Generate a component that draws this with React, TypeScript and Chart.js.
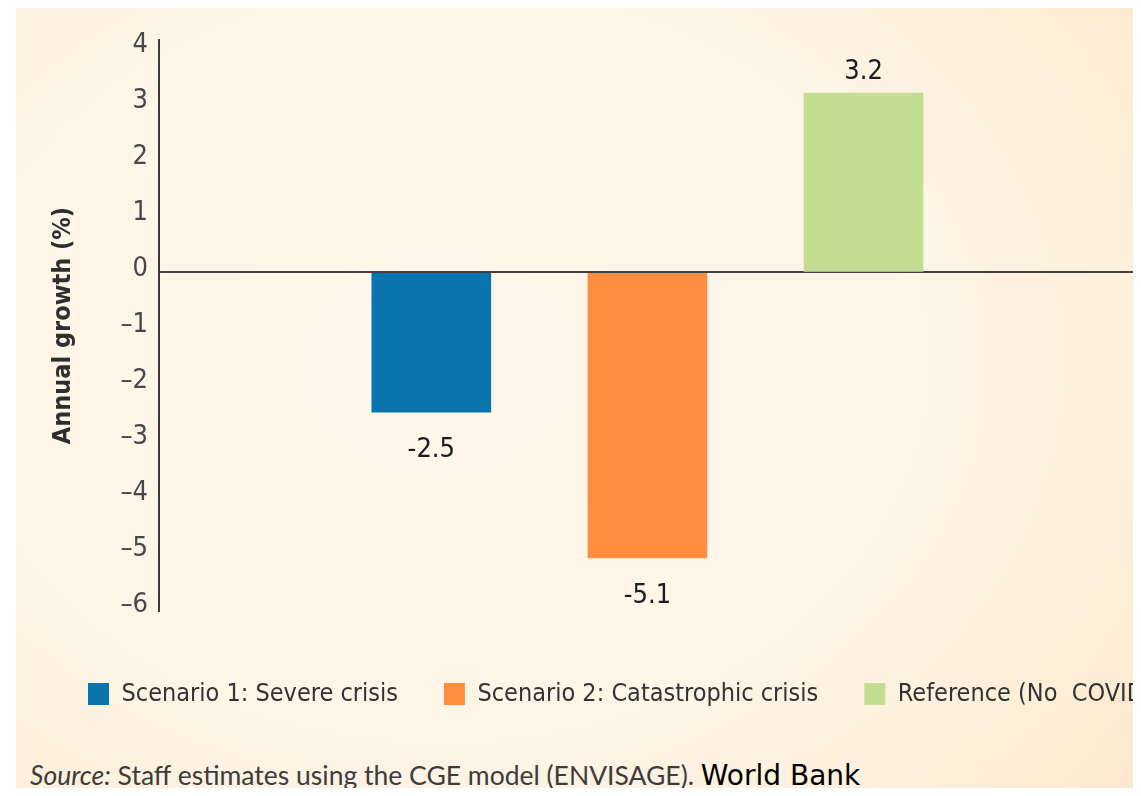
import React, { useEffect, useRef } from 'react';
import { Chart, registerables } from 'chart.js';

Chart.register(...registerables);

// ---- data ----
const categories = ['Scenario 1: Severe crisis', 'Scenario 2: Catastrophic crisis', 'Reference (No  COVID)'];
const values = [-2.5, -5.1, 3.2];
const valueLabels = ['-2.5', '-5.1', '3.2'];
const colors = ['#0A74AD', '#FF8E40', '#C3DD92'];
const yAxisTitle = 'Annual growth (%)';
const yMin = -6;
const yMax = 4;
const yStep = 1;

const COND = '"DejaVu Sans Condensed", "DejaVu Sans", sans-serif';

const valueLabelPlugin = {
  id: 'valueLabels',
  afterDatasetsDraw(chart: any) {
    const ctx = chart.ctx;
    ctx.save();
    ctx.font = `normal 27px ${COND}`;
    ctx.fillStyle = '#1b1b1b';
    ctx.textAlign = 'center';
    ctx.textBaseline = 'alphabetic';
    chart.data.datasets.forEach((ds: any, i: number) => {
      const meta = chart.getDatasetMeta(i);
      meta.data.forEach((el: any) => {
        const v = values[i];
        const { x, y } = el.getProps(['x', 'y'], true);
        if (v < 0) ctx.fillText(valueLabels[i], x, y + 45);
        else ctx.fillText(valueLabels[i], x, y - 14);
      });
    });
    ctx.restore();
  },
};

export default function App() {
  const ref = useRef<HTMLCanvasElement | null>(null);

  useEffect(() => {
    document.documentElement.style.overflow = 'hidden';
    document.body.style.overflow = 'hidden';
    if (!ref.current) return;
    const chart = new Chart(ref.current, {
      type: 'bar',
      data: {
        datasets: categories.map((c, i) => ({
          label: c,
          data: [{ x: i + 1, y: values[i] }],
          backgroundColor: colors[i],
          borderWidth: 0,
          barThickness: 119,
          grouped: false,
        })),
      },
      options: {
        animation: false,
        responsive: false,
        devicePixelRatio: 1,
        layout: { padding: { left: 26, top: 32, right: 0, bottom: 11.5 } },
        plugins: {
          tooltip: { enabled: false },
          legend: {
            position: 'bottom',
            align: 'start',
            labels: {
              boxWidth: 21,
              boxHeight: 22,
              padding: 46,
              color: '#333333',
              font: { family: COND, size: 25 },
            },
          },
        },
        scales: {
          x: {
            type: 'linear',
            min: -0.26,
            max: 4.27,
            offset: false,
            display: true,
            ticks: { display: false },
            grid: { display: false },
            border: { display: false },
            afterFit: (s: any) => { s.height = 24.5; },
          },
          y: {
            type: 'linear',
            min: yMin - 0.05,
            max: yMax + 0.15,
            z: 1,
            ticks: {
              stepSize: yStep,
              includeBounds: false,
              padding: 11,
              labelOffset: -3,
              color: '#474747',
              font: { family: COND, size: 27 },
              callback: (v: any) => (v < 0 ? '\u2013' + Math.abs(v) : String(v)),
            },
            grid: {
              drawTicks: false,
              lineWidth: 2,
              color: (c: any) => (c.tick && c.tick.value === 0 ? '#404040' : 'rgba(0,0,0,0)'),
            },
            border: { display: true, color: '#3a3a3a', width: 2 },
            title: {
              display: true,
              text: yAxisTitle,
              color: '#2e2e2e',
              font: { family: COND, size: 25, weight: 'bold' },
              padding: { top: 6, bottom: 0 },
            },
            afterFit: (s: any) => { s.width = 117; },
          },
          y2: {
            type: 'linear',
            position: 'right',
            display: true,
            ticks: { display: false },
            grid: { display: false },
            border: { display: false },
            afterFit: (s: any) => { s.width = 378; },
          },
        },
      },
      plugins: [valueLabelPlugin],
    } as any);
    return () => chart.destroy();
  }, []);

  return (
    <div
      style={{
        position: 'relative',
        marginLeft: 8,
        marginBottom: -8,
        width: 1125,
        height: 788,
        overflow: 'hidden',
        background:
          'radial-gradient(ellipse 85% 95% at 38% 45%, #FFF7EB 0%, #FEF5E7 50%, #FDEDD6 80%, #FCE6C6 100%)',
      }}
    >
      <canvas ref={ref} width={1500} height={720} style={{ position: 'absolute', left: 0, top: 0, width: 1500, height: 720 }} />
      <div
        style={{
          position: 'absolute',
          left: 14,
          top: 752,
          whiteSpace: 'nowrap',
          fontFamily: 'Lato, "Open Sans", sans-serif',
          fontSize: 26.5,
          color: '#3c3c3c',
          lineHeight: '30px',
        }}
      >
        <span style={{ fontStyle: 'italic' }}>Source:</span> Staff estimates using the CGE model (ENVISAGE).{' '}
        <span style={{ fontFamily: '"DejaVu Sans", sans-serif', fontSize: 28, color: '#000' }}>World Bank</span>
      </div>
    </div>
  );
}
